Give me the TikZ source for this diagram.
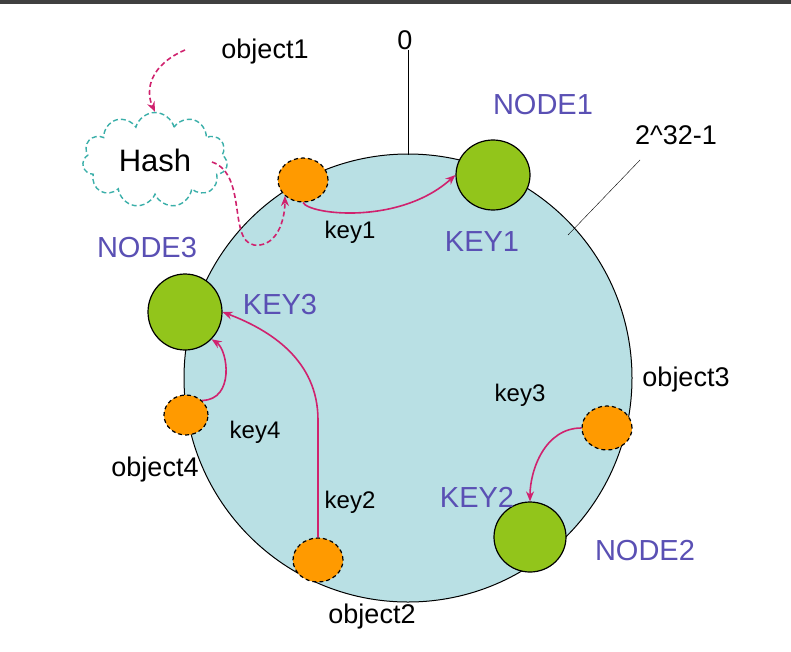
\documentclass[tikz,border=0pt]{standalone}
\usepackage{fontspec}
\setmainfont{Liberation Sans}
\usetikzlibrary{shapes.symbols,shapes.geometric,arrows.meta}
\definecolor{ring}{HTML}{B9E0E4}
\definecolor{grn}{HTML}{92C51B}
\definecolor{org}{HTML}{FF9A00}
\definecolor{lab}{HTML}{5A50B4}
\definecolor{mag}{HTML}{D0226E}
\definecolor{teal}{HTML}{3AAFA9}
\tikzset{
 srv/.style={ellipse,draw=black,line width=1.2pt,fill=grn,inner sep=0pt},
 obj/.style={ellipse,draw=black,line width=1.2pt,dash pattern=on 4pt off 3pt,fill=org,minimum width=50pt,minimum height=44pt,inner sep=0pt},
 nlab/.style={text=lab,font=\fontsize{29}{31}\selectfont},
 tlab/.style={text=black,font=\fontsize{27}{29}\selectfont},
 klab/.style={text=black,font=\fontsize{24}{26}\selectfont},
 arr/.style={mag,line width=1.6pt,-{Stealth[length=10pt,width=8pt]}},
 darr/.style={mag,line width=1.6pt,dash pattern=on 5pt off 3pt,-{Stealth[length=10pt,width=8pt]}},
}
\begin{document}
\begin{tikzpicture}[x=1pt,y=-1pt]
\useasboundingbox (0,0) rectangle (791,651);
\fill[white] (0,0) rectangle (791,651);
\fill[black!75] (0,0) rectangle (791,4);
\node[circle,draw=black,line width=1pt,fill=ring,minimum size=448pt,inner sep=0pt] (ring) at (408,378) {};
\coordinate (top) at (408,50);
\draw[line width=1pt] (top) -- (408,155);
\node[tlab] (zero) at (405,40) {0};
\coordinate (m1) at (568,235); \coordinate (m2) at (640,160);
\draw (m1) -- (m2);
\node[tlab] (max) at (676,135) {2\^{}32-1};
\node[srv,minimum width=74pt,minimum height=70pt] (n1) at (493,175) {};
\node[srv,minimum width=74pt,minimum height=76pt] (n3) at (185,312) {};
\node[srv,minimum width=72pt,minimum height=70pt] (n2) at (530,537) {};
\node[obj] (o1) at (303,180) {};
\node[obj,minimum width=44pt,minimum height=40pt] (o4) at (186,415) {};
\node[obj] (o2) at (318,560) {};
\node[obj] (o3) at (607,428) {};
\node[nlab] at (543,105) {NODE1};
\node[nlab] at (482,242) {KEY1};
\node[nlab] at (147,248) {NODE3};
\node[nlab] at (280,305) {KEY3};
\node[nlab] at (645,551) {NODE2};
\node[nlab] at (477,497) {KEY2};
\node[tlab] (t1) at (265,52) {object1};
\node[tlab] at (686,380) {object3};
\node[tlab] at (155,470) {object4};
\node[tlab] at (372,617) {object2};
\node[klab] at (350,232) {key1};
\node[klab] at (520,395) {key3};
\node[klab] at (350,502) {key2};
\node[klab] at (255,432) {key4};
\node[cloud,cloud puffs=11,draw=teal,line width=1.4pt,dash pattern=on 5pt off 3pt,fill=white,minimum width=145pt,minimum height=95pt,aspect=1.6] (hash) at (155,160) {\fontsize{31}{33}\selectfont Hash};
\coordinate (s1) at (185,50);
\draw[darr] (s1) .. controls (150,65) and (145,90) .. (hash.north);
\coordinate (h1) at (212,162);
\draw[darr] (h1) .. controls (250,175) and (225,250) .. (260,245) .. controls (280,242) and (285,215) .. (o1.south west);
\draw[arr] (o1.south) .. controls (310,215) and (400,225) .. (n1.west);
\draw[arr] (o3.west) .. controls (545,428) and (530,470) .. (n2.north);
\draw[arr] (o2.north) -- (318,420) .. controls (318,360) and (270,330) .. (n3.east);
\draw[arr] (o4.north east) .. controls (235,400) and (228,350) .. (n3.south east);
\end{tikzpicture}
\end{document}
